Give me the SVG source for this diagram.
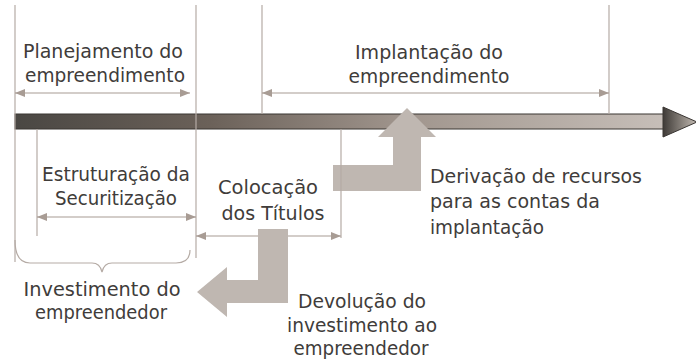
<svg xmlns="http://www.w3.org/2000/svg" width="696" height="364" viewBox="0 0 696 364">
<defs>
<style>
.t{font-family:"DejaVu Sans","Liberation Sans",sans-serif;font-size:19px;fill:#403c3a}
.c{text-anchor:middle}
.v{stroke:#b5aba5;stroke-width:1.2;fill:none}
.d{stroke:#a89c94;stroke-width:1.2;fill:none;marker-start:url(#ah);marker-end:url(#ah)}
.big{fill:#bfb7b1}
</style>
<marker id="ah" viewBox="0 0 10 8" refX="10" refY="4" markerWidth="10" markerHeight="8" markerUnits="userSpaceOnUse" orient="auto-start-reverse">
<path d="M0,0 L10,4 L0,8 Z" fill="#a89c94"/>
</marker>
<linearGradient id="bar" x1="15" y1="0" x2="663" y2="0" gradientUnits="userSpaceOnUse">
<stop offset="0" stop-color="#4a4743"/>
<stop offset="0.3" stop-color="#6b6159"/>
<stop offset="0.6" stop-color="#a0958d"/>
<stop offset="1" stop-color="#c6beb8"/>
</linearGradient>
<linearGradient id="head" x1="663" y1="0" x2="696" y2="0" gradientUnits="userSpaceOnUse">
<stop offset="0" stop-color="#3e3a36"/>
<stop offset="1" stop-color="#c0b8b0"/>
</linearGradient>
</defs>

<g id="timeline">
<rect x="15" y="114" width="649" height="15" fill="url(#bar)" stroke="#3a3633" stroke-width="1"/>
<path d="M663,107 L697,122 L663,137 Z" fill="url(#head)" stroke="#3a3633" stroke-width="1"/>
</g>

<g id="connectors">
<line class="v" x1="15" y1="5" x2="15" y2="262"/>
<line class="v" x1="196" y1="5" x2="196" y2="258"/>
<line class="v" x1="262" y1="5" x2="262" y2="114"/>
<line class="v" x1="609" y1="5" x2="609" y2="114"/>
<line class="v" x1="37" y1="129" x2="37" y2="236"/>
<line class="d" x1="15" y1="93" x2="190" y2="93"/>
<line class="d" x1="262" y1="93" x2="609" y2="93"/>
<line class="d" x1="37" y1="217" x2="196" y2="217"/>
<line class="d" x1="196" y1="236" x2="341" y2="236"/>
<path class="v" d="M15,240 Q15,263 30,263 L92,263 Q100,263 102,272 Q104,263 112,263 L176,263 Q190,263 190,250"/>
</g>

<g id="derivacao-arrow">
<path class="big" d="M333,165 L393,165 L393,137 L378,137 L407,108 L436,137 L421,137 L421,191 L333,191 Z"/>
</g>
<g id="devolucao-arrow">
<path class="big" d="M258,229 L288,229 L288,303 L227,303 L227,317 L197,292 L227,267 L227,280 L258,280 Z"/>
</g>
<line class="v" x1="341" y1="129" x2="341" y2="238"/>

<g id="planejamento">
<text class="t c" x="103" y="58" textLength="160" lengthAdjust="spacingAndGlyphs">Planejamento do</text>
<text class="t c" x="105" y="82" textLength="160" lengthAdjust="spacingAndGlyphs">empreendimento</text>
</g>
<g id="implantacao">
<text class="t c" x="429" y="59" textLength="148" lengthAdjust="spacingAndGlyphs">Implantação do</text>
<text class="t c" x="429" y="83" textLength="161" lengthAdjust="spacingAndGlyphs">empreendimento</text>
</g>
<g id="estruturacao">
<text class="t c" x="116" y="181" textLength="148" lengthAdjust="spacingAndGlyphs">Estruturação da</text>
<text class="t c" x="116" y="205" textLength="122" lengthAdjust="spacingAndGlyphs">Securitização</text>
</g>
<g id="colocacao">
<text class="t c" x="268" y="194" textLength="100" lengthAdjust="spacingAndGlyphs">Colocação</text>
<text class="t c" x="273" y="220" textLength="103" lengthAdjust="spacingAndGlyphs">dos Títulos</text>
</g>
<g id="derivacao">
<text class="t" x="430" y="183" textLength="212" lengthAdjust="spacingAndGlyphs">Derivação de recursos</text>
<text class="t" x="430" y="208" textLength="170" lengthAdjust="spacingAndGlyphs">para as contas da</text>
<text class="t" x="430" y="234" textLength="114" lengthAdjust="spacingAndGlyphs">implantação</text>
</g>
<g id="investimento">
<text class="t c" x="102" y="296" textLength="157" lengthAdjust="spacingAndGlyphs">Investimento do</text>
<text class="t c" x="101" y="319" textLength="132" lengthAdjust="spacingAndGlyphs">empreendedor</text>
</g>
<g id="devolucao">
<text class="t c" x="362" y="308" textLength="128" lengthAdjust="spacingAndGlyphs">Devolução do</text>
<text class="t c" x="362" y="332" textLength="150" lengthAdjust="spacingAndGlyphs">investimento ao</text>
<text class="t c" x="361" y="355" textLength="135" lengthAdjust="spacingAndGlyphs">empreendedor</text>
</g>
</svg>
